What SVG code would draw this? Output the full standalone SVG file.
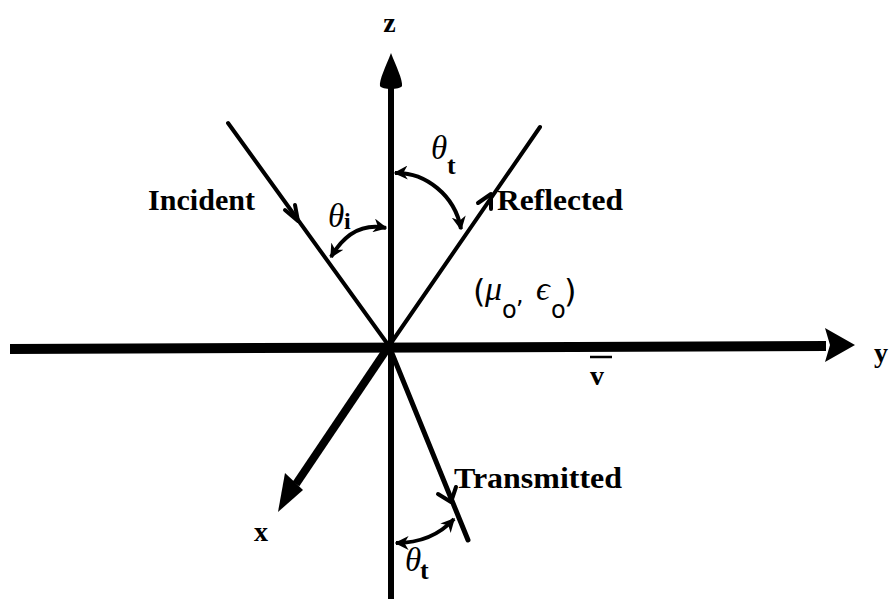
<svg xmlns="http://www.w3.org/2000/svg" width="891" height="599" viewBox="0 0 891 599">
<style>
.lbl{font-family:"Liberation Serif","Times New Roman",serif;font-weight:bold;fill:#000}
.gr{font-family:"Liberation Serif","Times New Roman",serif;font-style:italic;fill:#000}
.sub{font-family:"Liberation Serif","Times New Roman",serif;font-weight:bold;fill:#000}
.sans{font-family:"DejaVu Sans","Liberation Sans",sans-serif;fill:#000}
.ln{stroke:#000;fill:none;stroke-linecap:round}
.arc{stroke:#000;fill:none;stroke-width:4;marker-start:url(#ah);marker-end:url(#ah)}
.barb{stroke:#000;stroke-width:4;fill:none;stroke-linecap:round;stroke-linejoin:round}
</style>
<defs>
<marker id="ah" viewBox="0 0 10 10" refX="9" refY="5" markerWidth="3.5" markerHeight="3.5" orient="auto-start-reverse" markerUnits="strokeWidth">
<path d="M0,0 L10,5 L0,10 L3,5 Z" fill="#000"/>
</marker>
</defs>
<rect width="891" height="599" fill="#fff"/>
<g id="connectors">
<g id="y-axis">
<path d="M10,349 L826,346" stroke="#000" stroke-width="10" fill="none"/>
<polygon points="825,328 855,345 825,362 830,345" fill="#000"/>
</g>
<g id="z-axis">
<path d="M391,599 L391,86" stroke="#000" stroke-width="6" fill="none"/>
<path d="M391,53 C386,66 379,80 380,86 C382,90 400,90 402,86 C403,80 396,66 391,53 Z" fill="#000"/>
</g>
<g id="x-axis">
<path d="M389,346 L296,484" stroke="#000" stroke-width="8" fill="none"/>
<polygon points="278,512 285,473 303,490" fill="#000"/>
</g>
<g id="incident-ray">
<path class="ln" d="M228,123 L389,346" stroke-width="4"/>
<path class="barb" d="M285,210 L298,221 L295,205"/>
</g>
<g id="reflected-ray">
<path class="ln" d="M389,346 L540,127" stroke-width="4"/>
<path class="barb" d="M478,203 L491,194 L491,209"/>
</g>
<g id="transmitted-ray">
<path d="M389,346 L468,540" stroke="#000" stroke-width="5" fill="none" stroke-linecap="round"/>
<path class="barb" d="M438,494 L451,502 L456,487"/>
</g>
<path class="arc" d="M386,228 Q352,221 331,257"/>
<path class="arc" d="M395,173 C425,172 455,195 461,229"/>
<path class="arc" d="M396,543 Q432,543 454,519"/>
</g>
<g id="labels">
<text class="lbl" x="389.5" y="32" font-size="28" text-anchor="middle">z</text>
<text class="lbl" x="874" y="362" font-size="28">y</text>
<text class="lbl" x="254" y="541" font-size="28">x</text>
<text class="lbl" x="148" y="210" font-size="29" textLength="107" lengthAdjust="spacingAndGlyphs">Incident</text>
<text class="lbl" x="497" y="210" font-size="29" textLength="126" lengthAdjust="spacingAndGlyphs">Reflected</text>
<text class="lbl" x="454" y="488" font-size="29" textLength="168" lengthAdjust="spacingAndGlyphs">Transmitted</text>
<g id="theta-i"><text class="gr" x="328" y="227" font-size="33">θ</text><text class="sub" x="344" y="229" font-size="24">i</text></g>
<g id="theta-t-upper"><text class="gr" x="431" y="159" font-size="33">θ</text><text class="sub" x="447" y="174" font-size="26">t</text></g>
<g id="theta-t-lower"><text class="gr" x="405" y="571" font-size="33">θ</text><text class="sub" x="420" y="579" font-size="26">t</text></g>
<g id="medium">
<text class="sans" x="473" y="302" font-size="32">(</text>
<text class="gr" x="485" y="300" font-size="34">μ</text>
<text class="sans" x="502" y="318" font-size="24">o</text>
<text class="sans" x="516" y="303" font-size="24">,</text>
<text class="gr" x="536" y="300" font-size="34">ϵ</text>
<text class="sans" x="551" y="318" font-size="24">o</text>
<text class="sans" x="564" y="302" font-size="32">)</text>
</g>
<g id="v-bar">
<path d="M590,357 L612,357" stroke="#000" stroke-width="2.5"/>
<text class="lbl" x="597" y="385" font-size="28" text-anchor="middle">v</text>
</g>
</g>
</svg>
